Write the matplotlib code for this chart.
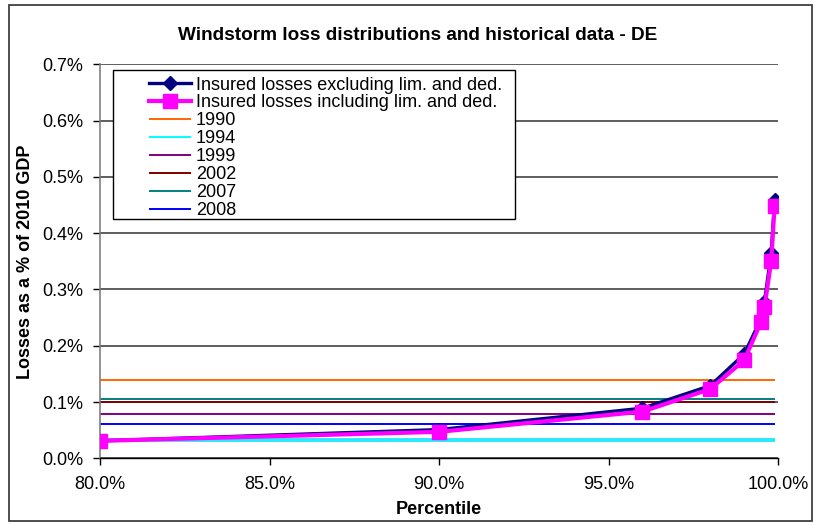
import matplotlib
matplotlib.use('Agg')
import matplotlib.pyplot as plt
from matplotlib.patches import Rectangle
from matplotlib.transforms import Bbox, TransformedBbox
from matplotlib.ticker import FuncFormatter, MultipleLocator

plt.rcParams['font.family'] = ['Liberation Sans', 'DejaVu Sans']

# ---- data ----
percentiles = [80.0, 90.0, 96.0, 98.0, 99.0, 99.5, 99.6, 99.8, 99.9]
excl_lim_ded = [0.031, 0.051, 0.089, 0.129, 0.185, 0.248, 0.278, 0.365, 0.459]
incl_lim_ded = [0.031, 0.047, 0.083, 0.123, 0.174, 0.242, 0.268, 0.351, 0.448]
years = ['1990', '1994', '1999', '2002', '2007', '2008', '2010']
hist_losses = [0.1386, 0.0325, 0.0782, 0.0995, 0.1048, 0.0604, 0.0330]
hist_colors = ['#FF6600', '#00FFFF', '#800080', '#800000', '#008080', '#0000FF', '#33CCFF']
series_labels = ['Insured losses excluding lim. and ded.',
                 'Insured losses including lim. and ded.']
title = 'Windstorm loss distributions and historical data - DE'

W, H = 815, 525
fig = plt.figure(figsize=(W / 100, H / 100), dpi=100)

# outer chart border
fig.patches.append(Rectangle((9 / W, 1 - 521 / H), 803 / W, 516 / H,
                             transform=fig.transFigure, fill=False,
                             edgecolor='#404040', lw=1.3, zorder=0))

ax = fig.add_axes([100 / W, 1 - 458.3 / H, 678 / W, 394 / H])
ax.set_xlim(80, 100)
ax.set_ylim(0, 0.7)

# historical lines
hist_lines = []
for yr, v, c in zip(years, hist_losses, hist_colors):
    lw = 2.6 if yr == '2010' else 1.4
    ln, = ax.plot([percentiles[0], percentiles[-1]], [v, v], color=c, lw=lw,
                  zorder=2 if yr == '2010' else 2.5, label=yr, solid_capstyle='butt')
    hist_lines.append(ln)

l_ex, = ax.plot(percentiles, excl_lim_ded, color='#000080', lw=2.4, marker='D',
                markersize=7, zorder=3, label=series_labels[0])
l_in, = ax.plot(percentiles, incl_lim_ded, color='#FF00FF', lw=3.0, marker='s',
                markersize=10.5, zorder=4, label=series_labels[1])

# axes styling
for s in ['top', 'right']:
    ax.spines[s].set_visible(False)
ax.spines['left'].set_color('#808080')
ax.spines['left'].set_linewidth(1.2)
ax.spines['bottom'].set_color('black')
ax.spines['bottom'].set_linewidth(1.0)

ax.yaxis.set_major_locator(MultipleLocator(0.1))
ax.xaxis.set_major_locator(MultipleLocator(5))
ax.yaxis.set_major_formatter(FuncFormatter(lambda v, p: f'{v:.1f}%'))
ax.xaxis.set_major_formatter(FuncFormatter(lambda v, p: f'{v:.1f}%'))
ax.tick_params(axis='both', direction='out', length=5, width=1, labelsize=13, colors='black')
ax.tick_params(axis='y', pad=7)
ax.tick_params(axis='x', pad=8)
ax.grid(axis='y', color='#333333', lw=1.1)
ax.set_axisbelow(True)

ax.set_xlabel('Percentile', fontsize=13, fontweight='bold', va='center')
ax.xaxis.set_label_coords(0.5, (458.3 - 510) / 394)
ax.set_ylabel('Losses as a % of 2010 GDP', fontsize=13, fontweight='bold', va='center')
ax.yaxis.set_label_coords((25 - 100) / 678, 0.5)

fig.text(418 / W, 1 - 36 / H, title, ha='center', va='center', fontsize=13.7,
         fontweight='bold')

# legend (box clips the last entry, as in the original)
bx0, by0, bx1, by1 = 113, 70, 515, 219
fig.patches.append(Rectangle((bx0 / W, 1 - by1 / H), (bx1 - bx0) / W, (by1 - by0) / H,
                             transform=fig.transFigure, facecolor='white',
                             edgecolor='black', lw=1.0, zorder=5))
leg = fig.legend([l_ex, l_in] + hist_lines, series_labels + years,
                 loc='upper left', bbox_to_anchor=(149 / W, 1 - 76.5 / H),
                 bbox_transform=fig.transFigure, frameon=False, fontsize=13,
                 handlelength=2.3, handletextpad=0.3, labelspacing=0.055,
                 borderpad=0, borderaxespad=0)
leg.set_zorder(6)
clip = TransformedBbox(Bbox.from_extents(bx0 / W, 1 - by1 / H, bx1 / W, 1 - by0 / H),
                       fig.transFigure)
for t in leg.get_texts():
    t.set_clip_box(clip)
    t.set_clip_on(True)
for h in leg.legend_handles:
    h.set_clip_box(clip)
    h.set_clip_on(True)

fig.savefig('out.png', dpi=100)
